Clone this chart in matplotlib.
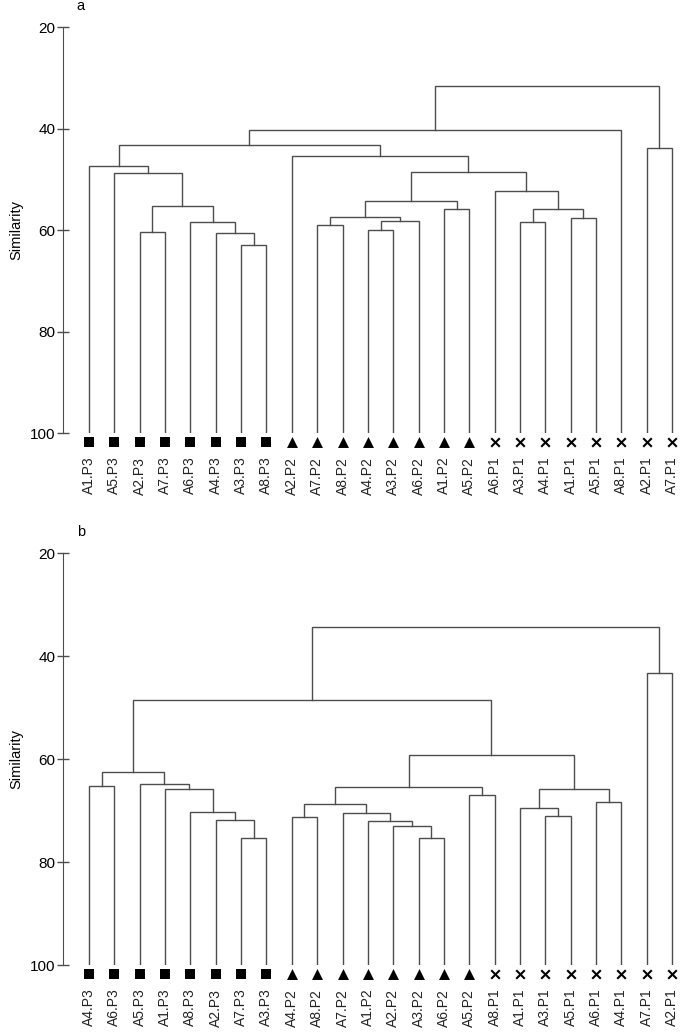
import matplotlib.pyplot as plt

plt.rcParams['font.family'] = ['Liberation Sans', 'DejaVu Sans']

# panel a: leaf order and merges (left id, right id, similarity); ids >= 24 are earlier merges
labels_a = ["A1.P3", "A5.P3", "A2.P3", "A7.P3", "A6.P3", "A4.P3", "A3.P3", "A8.P3",
            "A2.P2", "A7.P2", "A8.P2", "A4.P2", "A3.P2", "A6.P2", "A1.P2", "A5.P2",
            "A6.P1", "A3.P1", "A4.P1", "A1.P1", "A5.P1", "A8.P1", "A2.P1", "A7.P1"]
left_a = [6, 2, 5, 4, 25, 1, 0, 11, 9, 31, 32, 14, 34, 17, 19, 37, 16, 36, 8, 30, 22, 43, 45]
right_a = [7, 3, 24, 26, 27, 28, 29, 12, 10, 13, 33, 15, 35, 18, 20, 38, 39, 40, 41, 42, 23, 21, 44]
height_a = [62.9, 60.4, 60.5, 58.5, 55.3, 48.7, 47.3, 59.9, 59.0, 58.3, 57.4, 55.8, 54.3,
            58.5, 57.7, 55.8, 52.3, 48.5, 45.4, 43.3, 43.9, 40.3, 31.7]

# panel b
labels_b = ["A4.P3", "A6.P3", "A5.P3", "A1.P3", "A8.P3", "A2.P3", "A7.P3", "A3.P3",
            "A4.P2", "A8.P2", "A7.P2", "A1.P2", "A2.P2", "A3.P2", "A6.P2", "A5.P2",
            "A8.P1", "A1.P1", "A3.P1", "A5.P1", "A6.P1", "A4.P1", "A7.P1", "A2.P1"]
left_b = [6, 5, 4, 3, 2, 0, 29, 13, 12, 11, 10, 8, 35, 15, 36, 18, 17, 20, 40, 38, 30, 22, 44]
right_b = [7, 24, 25, 26, 27, 1, 28, 14, 31, 32, 33, 9, 34, 16, 37, 19, 39, 21, 41, 42, 43, 23, 45]
height_b = [75.3, 71.9, 70.3, 65.8, 64.8, 65.3, 62.5, 75.3, 73.1, 72.1, 70.4, 71.3, 68.8,
            66.9, 65.4, 71.1, 69.6, 68.4, 65.8, 59.3, 48.6, 43.3, 34.3]

markers = {"P3": "s", "P2": "^", "P1": "x"}
sizes = {"s": 48, "^": 62, "x": 38}
line_col = "#4d4d4d"


def draw_tree(ax, labels, left, right, height, tag):
    n = len(labels)
    xs = list(range(n))
    ys = [100.0] * n
    for a, b, h in zip(left, right, height):
        ax.plot([xs[a], xs[a], xs[b], xs[b]], [ys[a], h, h, ys[b]],
                color=line_col, lw=1.0, solid_joinstyle="miter")
        xs.append((xs[a] + xs[b]) / 2)
        ys.append(h)
    for i, lab in enumerate(labels):
        m = markers[lab.split(".")[1]]
        ax.scatter(i, 101.8, marker=m, s=sizes[m], color="black",
                   linewidths=1.5 if m == "x" else 0, clip_on=False, zorder=3)
    ax.set_xticks(range(n))
    ax.set_xticklabels(labels, rotation=90, fontsize=10, color="#222222")
    ax.tick_params(axis="x", length=0, pad=17)
    ax.set_xlim(-1.026, 23.63)
    ax.set_ylim(100, 20)
    ax.set_yticks([20, 40, 60, 80, 100])
    ax.tick_params(axis="y", direction="inout", length=9, width=1, color=line_col,
                   labelsize=11, pad=1)
    for s in ["top", "right", "bottom"]:
        ax.spines[s].set_visible(False)
    ax.spines["left"].set_color(line_col)
    ax.set_ylabel("Similarity", fontsize=10.5, labelpad=5)
    ax.text(0.022, 1.035, tag, transform=ax.transAxes, fontsize=10.5, ha="left", va="bottom")


fig = plt.figure(figsize=(6.88, 10.35), dpi=100)
ax1 = fig.add_axes([0.0916, 0.5816, 0.9084, 0.3923])
ax2 = fig.add_axes([0.0916, 0.0676, 0.9084, 0.3981])
draw_tree(ax1, labels_a, left_a, right_a, height_a, "a")
draw_tree(ax2, labels_b, left_b, right_b, height_b, "b")

fig.savefig("out.png", dpi=100)
